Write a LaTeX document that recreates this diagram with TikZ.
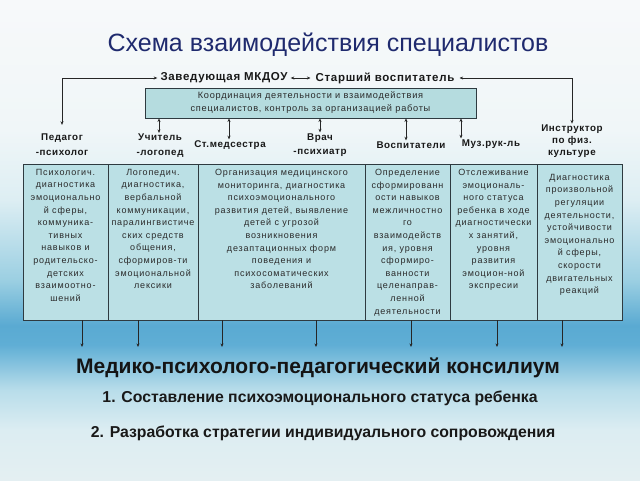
\documentclass[tikz,border=0pt]{standalone}
\usepackage{fontspec}
\setmainfont{Liberation Sans}
\usetikzlibrary{arrows.meta}
\definecolor{titlec}{HTML}{1F2A6E}
\definecolor{boxfill}{HTML}{B5DCDF}
\definecolor{cellfill}{HTML}{BBE0E5}
\definecolor{edgec}{HTML}{2E3A40}
\definecolor{txtc}{HTML}{2A2A2A}
\definecolor{bgA}{HTML}{E4EFF2}
\definecolor{bgB}{HTML}{DCEDF2}
\definecolor{bgC}{HTML}{B8DDEA}
\definecolor{bgD}{HTML}{5FAED5}
\definecolor{bgE}{HTML}{5AAAD2}
\definecolor{bgF}{HTML}{9BCFE2}
\definecolor{bgG}{HTML}{DDEEF3}
\definecolor{bgH}{HTML}{F0F6F8}
\definecolor{bgI}{HTML}{F7F9FA}
% path covers 25bp..75bp of the declared shading
\pgfdeclareverticalshading{bgsh}{100bp}{color(0bp)=(bgA); color(25bp)=(bgA); color(30.2bp)=(bgB); color(34.4bp)=(bgC); color(39.1bp)=(bgD); color(41.1bp)=(bgE); color(45.8bp)=(bgF); color(54.2bp)=(bgG); color(61.5bp)=(bgH); color(75bp)=(bgI); color(100bp)=(bgI)}
\tikzset{
  arr/.style={draw=black!85, line width=0.6pt, -{Stealth[length=3.6pt,width=3pt]}},
  arrb/.style={draw=black!85, line width=0.6pt, {Stealth[length=3.6pt,width=3pt]}-{Stealth[length=3.6pt,width=3pt]}},
  lab/.style={font=\fontsize{9.8}{15}\selectfont\bfseries\addfontfeatures{LetterSpace=6}, align=center, inner sep=1pt, text=black!90},
  toplab/.style={font=\fontsize{11.5}{13}\selectfont\bfseries\addfontfeatures{LetterSpace=6}, inner sep=3pt, text=black!90},
  cell/.style={draw=edgec, line width=0.7pt, fill=cellfill, inner sep=0pt, outer sep=0pt, anchor=north west, minimum height=156pt},
  celltext/.style={font=\fontsize{9}{12.6}\selectfont\addfontfeatures{LetterSpace=9}, align=center, inner sep=0pt, anchor=north, text=txtc, yshift=-5pt},
  boxstyle/.style={draw=edgec, line width=0.7pt, fill=boxfill, inner sep=0pt, minimum width=331pt, minimum height=30pt, align=center, font=\fontsize{9.2}{13}\selectfont\addfontfeatures{LetterSpace=8}, text=txtc},
  big/.style={font=\fontsize{21}{24}\selectfont\bfseries, text=black!92, inner sep=0pt},
  item/.style={font=\fontsize{15.8}{18}\selectfont\bfseries, text=black!90, inner sep=0pt}
}
\begin{document}
\begin{tikzpicture}[x=1pt, y=-1pt]
\useasboundingbox (0,0) rectangle (640,480);
\shade[shading=bgsh] (0,0) rectangle (640,480);

% title
\node[font=\fontsize{25}{28}\selectfont, text=titlec, inner sep=0pt] (title) at (328,45) {Схема взаимодействия специалистов};

% top row
\node[toplab] (zav) at (224,78) {Заведующая МКДОУ};
\node[toplab, inner sep=5pt] (st) at (385,78) {Старший воспитатель};
\draw[arrb] (zav.east) -- (st.west);

% coordination box
\node[boxstyle] (coord) at (310.5,103) {Координация деятельности и взаимодействия\\специалистов, контроль за организацией работы};

% specialists
\node[lab] (ped) at (62,145) {Педагог\\-психолог};
\node[lab] (uch) at (160,146) {Учитель\\-логопед};
\node[lab] (med) at (230,145) {Ст.медсестра};
\node[lab, font=\fontsize{9.8}{14}\selectfont\bfseries\addfontfeatures{LetterSpace=6}] (vrach) at (320,145) {Врач\\-психиатр};
\node[lab] (vosp) at (411,145) {Воспитатели};
\node[lab] (muz) at (491,144) {Муз.рук-ль};
\node[lab, font=\fontsize{9.8}{11.8}\selectfont\bfseries\addfontfeatures{LetterSpace=6}] (ins) at (572,141) {Инструктор\\по физ.\\культуре};

\draw[arrb] ([yshift=8pt]ped.north) |- (zav.west);
\draw[arrb] (st.east) -| (ins.north);

\coordinate (m1) at (159,0);
\coordinate (m2) at (229,0);
\coordinate (m3) at (320,0);
\coordinate (m4) at (406,0);
\coordinate (m5) at (461,0);
\draw[arrb] (m1 |- coord.south) -- (m1 |- uch.north);
\draw[arrb] (m2 |- coord.south) -- (m2 |- med.north);
\draw[arrb] (m3 |- coord.south) -- (m3 |- vrach.north);
\draw[arrb] (m4 |- coord.south) -- (m4 |- vosp.north);
\draw[arrb] (m5 |- coord.south) -- (m5 |- muz.north);

% table
\node[cell, minimum width=85pt] (c1) at (23,164) {};
\node[cell, minimum width=90pt] (c2) at (108,164) {};
\node[cell, minimum width=167pt] (c3) at (198,164) {};
\node[cell, minimum width=85pt] (c4) at (365,164) {};
\node[cell, minimum width=87pt] (c5) at (450,164) {};
\node[cell, minimum width=85pt] (c6) at (537,164) {};

\node[celltext] (t1) at (c1.north) {Психологич.\\диагностика\\эмоционально\\й сферы,\\коммуника-\\тивных\\навыков и\\родительско-\\детских\\взаимоотно-\\шений};
\node[celltext] (t2) at (c2.north) {Логопедич.\\диагностика,\\вербальной\\коммуникации,\\паралингвистиче\\ских средств\\общения,\\сформиров-ти\\эмоциональной\\лексики};
\node[celltext] (t3) at (c3.north) {Организация медицинского\\мониторинга, диагностика\\психоэмоционального\\развития детей, выявление\\детей с угрозой\\возникновения\\дезаптационных форм\\поведения и\\психосоматических\\заболеваний};
\node[celltext] (t4) at (c4.north) {Определение\\сформированн\\ости навыков\\межличностно\\го\\взаимодейств\\ия, уровня\\сформиро-\\ванности\\целенаправ-\\ленной\\деятельности};
\node[celltext] (t5) at (c5.north) {Отслеживание\\эмоциональ-\\ного статуса\\ребенка в ходе\\диагностически\\х занятий,\\уровня\\развития\\эмоцион-ной\\экспресии};
\node[celltext, yshift=-5pt] (t6) at (c6.north) {Диагностика\\произвольной\\регуляции\\деятельности,\\устойчивости\\эмоционально\\й сферы,\\скорости\\двигательных\\реакций};

% bottom arrows
\coordinate (k1) at (82,347);
\coordinate (k2) at (138,347);
\coordinate (k3) at (222,347);
\coordinate (k4) at (316,347);
\coordinate (k5) at (411,347);
\coordinate (k6) at (497,347);
\coordinate (k7) at (562,347);
\draw[arr] (k1 |- c1.south) -- (k1);
\draw[arr] (k2 |- c2.south) -- (k2);
\draw[arr] (k3 |- c3.south) -- (k3);
\draw[arr] (k4 |- c3.south) -- (k4);
\draw[arr] (k5 |- c4.south) -- (k5);
\draw[arr] (k6 |- c5.south) -- (k6);
\draw[arr] (k7 |- c6.south) -- (k7);

% consilium
\node[big] (kons) at (318,368) {Медико-психолого-педагогический консилиум};
\node[item] (i1) at (320,398) {1. Составление психоэмоционального статуса ребенка};
\node[item] (i2) at (323,433) {2. Разработка стратегии индивидуального сопровождения};
\end{tikzpicture}
\end{document}
